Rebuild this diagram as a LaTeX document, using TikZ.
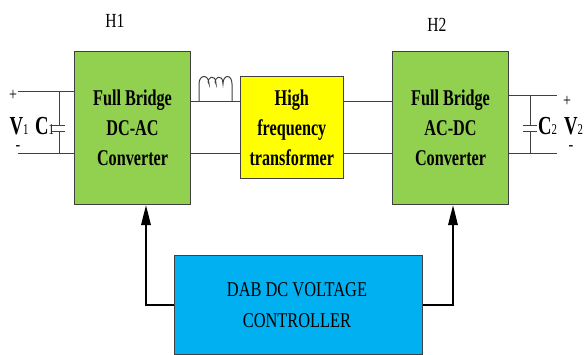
\documentclass[tikz,border=0pt]{standalone}
\usepackage{fontspec}
\setmainfont{Liberation Serif}
\newfontfamily\narrowfont[FakeStretch=0.78]{Liberation Serif}
\newfontfamily\tightfont[FakeStretch=0.72]{Liberation Serif}
\usetikzlibrary{arrows.meta}
\definecolor{gbox}{RGB}{146,208,80}
\definecolor{ybox}{RGB}{255,255,0}
\definecolor{bbox}{RGB}{0,176,240}
\definecolor{edgec}{RGB}{64,64,64}
\newcommand{\subdigit}[1]{{\tightfont\mdseries\fontsize{15}{15}\selectfont #1}}
\tikzset{
 x=1pt,y=-1pt,
 block/.style={draw=edgec,line width=1.1pt,minimum width=#1,anchor=north west,inner sep=0pt,align=center},
 wire/.style={draw=edgec,line width=1pt},
 ctrl/.style={draw=black,line width=1.7pt,-{Triangle[length=20pt,width=9.5pt]}},
 boldtxt/.style={font=\tightfont\bfseries\fontsize{22.5}{30}\selectfont,text=black},
 lab/.style={font=\narrowfont\fontsize{20}{24}\selectfont,text=black,inner sep=0pt},
 big/.style={font=\tightfont\bfseries\fontsize{26}{26}\selectfont,text=black,inner sep=0pt,anchor=base west},
 small/.style={font=\narrowfont\fontsize{18}{18}\selectfont,text=black,inner sep=0pt},
 dashmark/.style={small,text height=1.5pt,text depth=0pt,anchor=base},
}
\begin{document}
\begin{tikzpicture}
\useasboundingbox (0,0) rectangle (584,354);
% blocks
\node[block=116pt,minimum height=153pt,fill=gbox,boldtxt] (fb1) at (74,51) {Full Bridge\\DC-AC\\Converter};
\node[block=116pt,minimum height=153pt,fill=gbox,boldtxt] (fb2) at (392,51) {Full Bridge\\AC-DC\\Converter};
\node[block=103.5pt,minimum height=102pt,fill=ybox,boldtxt] (tr) at (239.5,76) {High\\frequency\\transformer};
\node[block=248pt,minimum height=99pt,fill=bbox] (dab) at (173.5,255) {};
\node[font=\narrowfont\fontsize{21}{31}\selectfont,align=center,inner sep=0pt] (dabt) at (297,305) {DAB DC VOLTAGE\\CONTROLLER};
% labels
\node[lab] (h1) at (115,21) {H1};
\node[lab] (h2) at (437,25) {H2};
\node[big] (v1) at (9.5,134) {V\subdigit{1}};
\node[big] (c1) at (35,134) {C\subdigit{1}};
\node[big] (c2) at (538,134) {C\subdigit{2}};
\node[big] (v2) at (564,134) {V\subdigit{2}};
\node[small] (p1) at (13,95) {+};
\node[dashmark] (m1) at (18,150) {-};
\node[small] (p2) at (567,101) {+};
\node[dashmark] (m2) at (571,150) {-};
% free ends and junction points
\coordinate (a1) at (18,91);
\coordinate (a2) at (18,153);
\coordinate (b1) at (557,95);
\coordinate (b2) at (557,153);
% source side wires
\draw[wire] (a1) -- (a1 -| fb1.west);
\draw[wire] (a2) -- (a2 -| fb1.west);
\draw[wire] (59,91) -- (59,125) (52,125) -- (65,125) (52,131) -- (65,131) (59,131) -- (59,153);
% bridge to transformer
\draw[wire] (fb1.east |- 0,101.5) -- (tr.west |- 0,101.5);
\draw[wire] (fb1.east |- 0,153) -- (tr.west |- 0,153);
\draw[wire] (199,101.5) -- (199,84)
 .. controls (199,74) and (209,74) .. (209,84)
 .. controls (205,78) and (216,72) .. (216,84)
 .. controls (212,78) and (223,72) .. (223,84)
 .. controls (223,74) and (232,74) .. (232,84) -- (232,101.5);
% transformer to bridge
\draw[wire] (tr.east |- 0,101.5) -- (fb2.west |- 0,101.5);
\draw[wire] (tr.east |- 0,153) -- (fb2.west |- 0,153);
% load side wires
\draw[wire] (b1 -| fb2.east) -- (b1);
\draw[wire] (b2 -| fb2.east) -- (b2);
\draw[wire] (530,95) -- (530,125) (523,125) -- (537,125) (523,131) -- (537,131) (530,131) -- (530,153);
% control arrows
\draw[ctrl] (dab.west |- 0,305) -| (fb1.south -| 146,0);
\draw[ctrl] (dab.east |- 0,305) -| (fb2.south -| 453,0);
\end{tikzpicture}
\end{document}
